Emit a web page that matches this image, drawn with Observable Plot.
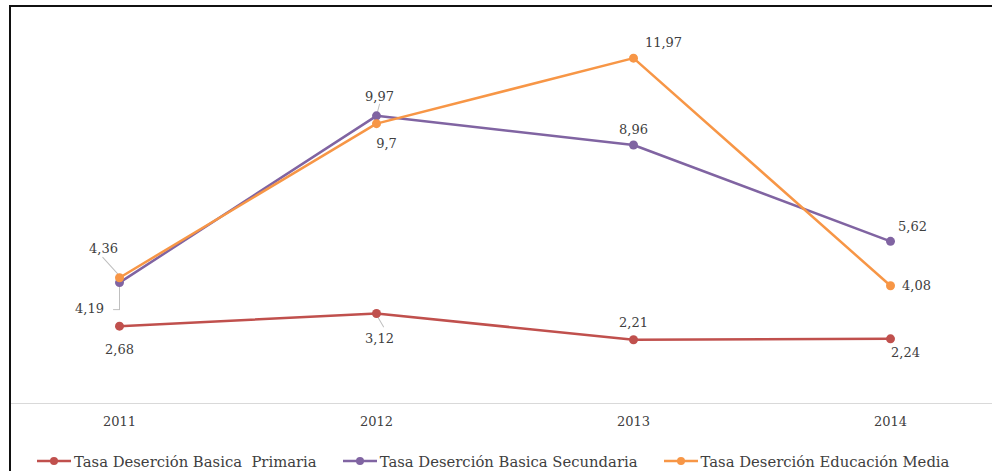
<!DOCTYPE html>
<html>
<head>
<meta charset="utf-8">
<script src="https://cdn.jsdelivr.net/npm/d3@7"></script>
<script src="https://cdn.jsdelivr.net/npm/@observablehq/plot@0.6"></script>
<style>
  html, body { margin: 0; padding: 0; background: #fff; }
  #frame { position: absolute; left: 9px; top: 5px; width: 983px; height: 470px;
           border-top: 2px solid #111; border-left: 2px solid #111; }
  #legend { display: flex; align-items: center; font-family: "DejaVu Serif", serif; font-size: 14.8px;
            color: #404040; white-space: pre; height: 20px; padding-left: 26px; }
  .item { display: flex; align-items: center; margin-right: 26px; }
  .item svg { margin-right: 3px; }
</style>
</head>
<body>
<div id="frame"><div id="chart"></div><div id="legend"></div></div>
<script>
const years = ["2011", "2012", "2013", "2014"];
const primaria = [2.68, 3.12, 2.21, 2.24];
const secundaria = [4.19, 9.97, 8.96, 5.62];
const media = [4.36, 9.7, 11.97, 4.08];
const seriesNames = ["Tasa Deserción Basica  Primaria", "Tasa Deserción Basica Secundaria", "Tasa Deserción Educación Media"];
const seriesColors = ["#C0504D", "#8064A2", "#F79646"];

// label placement (pixel offsets from each point)
const labelOffsets = [
  [[0, 24], [3, 25], [0, -17], [15, 14]],
  [[-30, 26], [3, -19], [0, -15], [22, -15]],
  [[-16, -29], [10, 20], [30, -15], [26, 0]]
];

const seriesValues = [primaria, secundaria, media];
const rows = [];
seriesValues.forEach((vals, s) => vals.forEach((v, i) => rows.push({
  series: seriesNames[s], year: years[i], value: v,
  label: String(v).replace(".", ","),
  dx: labelOffsets[s][i][0], dy: labelOffsets[s][i][1]
})));

const leaderShape = { draw(context, l) { context.moveTo(0, 0); context.lineTo(0, -l); } };
const leaders = [
  { s: 1, i: 0, length: 24, rotate: 180, dx: 0, dy: 3 },
  { s: 1, i: 0, length: 6, rotate: -90, dx: 0, dy: 27 },
  { s: 2, i: 0, length: 22, rotate: -42, dx: -2, dy: -4 },
  { s: 1, i: 1, length: 8, rotate: 15, dx: 1, dy: -4 },
  { s: 0, i: 1, length: 12, rotate: 150, dx: 1, dy: 3 }
].map(d => ({ ...d, year: years[d.i], value: seriesValues[d.s][d.i] }));

const textColor = "#404040";
const marks = [
  Plot.ruleY([0], { stroke: "#d9d9d9", strokeWidth: 1, insetLeft: -107, insetRight: -102 }),
  Plot.axisX({ tickSize: 0, tickPadding: 13, fontSize: 13, fill: textColor, fontFamily: "DejaVu Serif", label: null }),
  ...leaders.map(d => Plot.vector([d], { x: "year", y: "value", length: d.length, rotate: d.rotate,
      anchor: "start", shape: leaderShape, stroke: "#bfbfbf", strokeWidth: 1, dx: d.dx, dy: d.dy })),
  ...seriesNames.map((name, s) => Plot.line(rows.filter(r => r.series === name),
      { x: "year", y: "value", stroke: seriesColors[s], strokeWidth: 2.5 })),
  ...seriesNames.map((name, s) => Plot.dot(rows.filter(r => r.series === name),
      { x: "year", y: "value", fill: seriesColors[s], r: 4.5 })),
  ...rows.map(r => Plot.text([r], { x: "year", y: "value", text: "label", dx: r.dx, dy: r.dy,
      fill: textColor, fontSize: 13, fontFamily: "DejaVu Serif" }))
];

const chart = Plot.plot({
  width: 981, height: 444,
  marginLeft: 107, marginRight: 102, marginTop: 6.5, marginBottom: 48,
  x: { type: "point", domain: years, padding: 0, axis: null, label: null },
  y: { domain: [0, 13.5], axis: null },
  style: { background: "transparent", overflow: "visible" },
  marks
});
document.getElementById("chart").appendChild(chart);

const legend = document.getElementById("legend");
seriesNames.forEach((name, s) => {
  const item = document.createElement("div");
  item.className = "item";
  item.innerHTML = `<svg width="34" height="12"><line x1="0" y1="6" x2="34" y2="6" stroke="${seriesColors[s]}" stroke-width="2.5"/><circle cx="17" cy="6" r="4" fill="${seriesColors[s]}"/></svg><span>${name}</span>`;
  legend.appendChild(item);
});
</script>
</body>
</html>
